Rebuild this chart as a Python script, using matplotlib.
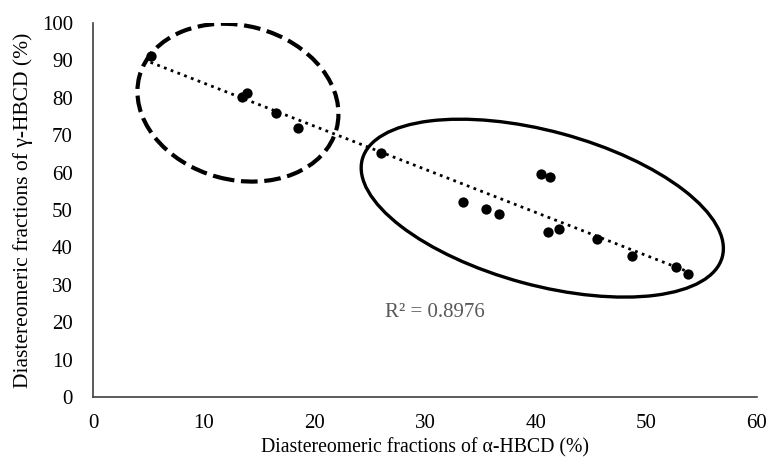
import matplotlib
matplotlib.use("Agg")
import matplotlib.pyplot as plt
import numpy as np
from matplotlib.patches import Ellipse
from matplotlib import transforms

plt.rcParams["font.family"] = ["Liberation Serif", "DejaVu Serif"]

# alpha-HBCD vs gamma-HBCD fractions (%)
alpha_hbcd = [5.2, 13.5, 13.9, 16.5, 18.5, 26.0, 33.4, 35.5, 36.7, 40.5, 41.3,
              41.1, 42.1, 45.5, 48.7, 52.7, 53.8]
gamma_hbcd = [91.2, 80.1, 81.2, 76.0, 72.0, 65.2, 52.2, 50.3, 49.0, 59.6, 58.8,
              44.1, 44.8, 42.2, 37.6, 34.8, 32.9]
r2_label = "R² = 0.8976"

x = np.array(alpha_hbcd)
y = np.array(gamma_hbcd)

fig = plt.figure(figsize=(7.71, 4.63), dpi=100)
ax = fig.add_axes([0.1206, 0.1425, 0.8612, 0.8078])

ax.scatter(x, y, s=55, color="black", zorder=3, linewidths=0)

# linear trendline over the data range
slope, intercept = np.polyfit(x, y, 1)
xs = np.array([x.min(), x.max()])
ax.plot(xs, slope * xs + intercept, color="black", linestyle=(0, (1, 1.6)),
        linewidth=2.0, zorder=2)

ax.text(26.4, 21.3, r2_label, fontsize=15, color="#595959")


# ellipses drawn in inches around a data-space centre
def ring(cx, cy, w, h, angle, **kw):
    tr = fig.dpi_scale_trans + transforms.ScaledTranslation(cx, cy, ax.transData)
    e = Ellipse((0, 0), w, h, angle=angle, transform=tr, fill=False, **kw)
    ax.add_patch(e)


ring(13.1, 78.7, 2.04, 1.54, -15, linewidth=3.0, linestyle=(0, (4, 1.6)),
     edgecolor="black")
ring(40.6, 50.5, 3.73, 1.54, -15.2, linewidth=2.4, edgecolor="black")

ax.set_xlim(0, 60)
ax.set_ylim(0, 100)
ax.set_xticks(range(0, 61, 10))
ax.set_yticks(range(0, 101, 10))
ax.tick_params(length=0, labelsize=15)
ax.tick_params(axis="x", pad=12)
ax.tick_params(axis="y", pad=14.5)
for s in ["top", "right"]:
    ax.spines[s].set_visible(False)
for s in ["left", "bottom"]:
    ax.spines[s].set_color("#404040")
    ax.spines[s].set_linewidth(1.2)

ax.set_xlabel("Diastereomeric fractions of α-HBCD (%)", fontsize=14.2, labelpad=4)
ax.set_ylabel("Diastereomeric fractions of γ-HBCD (%)", fontsize=15.5, labelpad=6)

fig.savefig("out.png", dpi=100)
